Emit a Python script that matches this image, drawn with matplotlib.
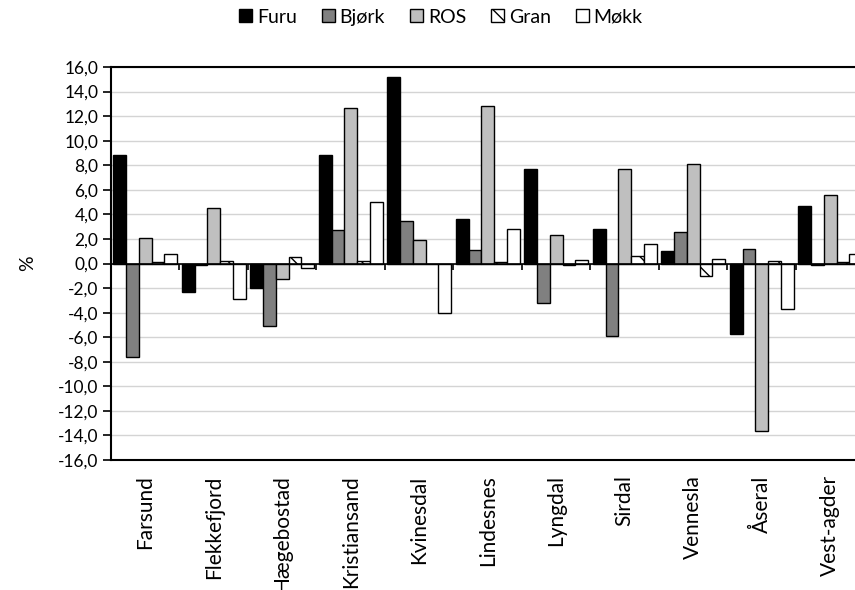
import numpy as np
import matplotlib.pyplot as plt
from matplotlib.ticker import FuncFormatter

plt.rcParams['font.family'] = ['Lato', 'DejaVu Sans']
plt.rcParams['hatch.linewidth'] = 1.0

kommuner = ['Farsund', 'Flekkefjord', 'Hægebostad', 'Kristiansand', 'Kvinesdal',
            'Lindesnes', 'Lyngdal', 'Sirdal', 'Vennesla', 'Åseral', 'Vest-agder']

furu = [8.8, -2.3, -2.0, 8.8, 15.2, 3.6, 7.7, 2.8, 1.0, -5.7, 4.7]
bjork = [-7.6, -0.1, -5.1, 2.7, 3.5, 1.1, -3.2, -5.9, 2.6, 1.2, -0.1]
ros = [2.1, 4.5, -1.3, 12.7, 1.9, 12.8, 2.3, 7.7, 8.1, -13.6, 5.6]
gran = [0.1, 0.2, 0.5, 0.2, 0.0, 0.1, -0.1, 0.6, -1.0, 0.2, 0.1]
mokk = [0.8, -2.9, -0.4, 5.0, -4.0, 2.8, 0.3, 1.6, 0.4, -3.7, 0.8]

series = [('Furu', furu, 'black', None),
          ('Bjørk', bjork, '#808080', None),
          ('ROS', ros, '#bfbfbf', None),
          ('Gran', gran, 'white', '\\\\'),
          ('Møkk', mokk, 'white', None)]

fig = plt.figure(figsize=(8.55, 5.9), dpi=100)
ax = fig.add_axes([0.1298, 0.2203, 0.8813, 0.6661])

x = np.arange(len(kommuner))
width = 1 / 5.35
for i, (name, vals, color, hatch) in enumerate(series):
    ax.bar(x + (i - 2) * width, vals, width, color=color, edgecolor='black',
           linewidth=1.0, hatch=hatch, label=name, zorder=3)

# horizontal zero line with category separators hanging below it
ax.axhline(0, color='black', lw=1.2, zorder=4)
ax.vlines(np.arange(len(kommuner) + 1) - 0.5, -0.55, 0, color='black', lw=1.2, zorder=4)

ax.set_xlim(-0.5, len(kommuner) - 0.5)
ax.set_ylim(-16, 16)
ax.set_yticks(np.arange(-16, 17, 2))
ax.yaxis.set_major_formatter(FuncFormatter(lambda v, p: f'{v:.1f}'.replace('.', ',')))
ax.yaxis.grid(True, color='#d4d4d4', lw=1.0, zorder=0)
ax.tick_params(axis='y', direction='out', length=6, width=1.2, labelsize=12.5, pad=3)

ax.set_xticks(x)
ax.set_xticklabels(kommuner, rotation=90, ha='center', va='top')
ax.tick_params(axis='x', length=0, labelsize=15, pad=11)

for s in ax.spines.values():
    s.set_linewidth(1.5)

ax.set_ylabel('%', fontsize=14, labelpad=16)

fig.legend(loc='center', bbox_to_anchor=(0.516, 0.971), ncol=5, frameon=False,
           fontsize=14, handlelength=0.65, handleheight=0.65, handletextpad=0.25,
           columnspacing=1.3)

fig.savefig('out.png', dpi=100)
